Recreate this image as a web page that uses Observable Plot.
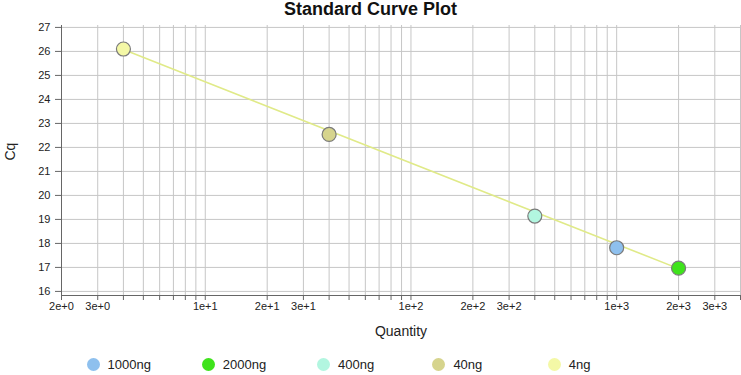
<!DOCTYPE html>
<html>
<head>
<meta charset="utf-8">
<script src="https://cdn.jsdelivr.net/npm/d3@7"></script>
<script src="https://cdn.jsdelivr.net/npm/@observablehq/plot@0.6"></script>
<style>
  html, body { margin: 0; padding: 0; background: #fff; }
  body { width: 741px; height: 375px; position: relative; overflow: hidden; font-family: "Liberation Sans", Arial, sans-serif; }
  #title { height: 22px; line-height: 18px; font-size: 18px; font-weight: bold; text-align: center; color: #111; margin: 0; }
  #legend { position: relative; height: 25px; }
  .item { position: absolute; top: 7px; height: 14px; display: flex; align-items: center; font-size: 13px; color: #222; }
  .sw { width: 13px; height: 13px; border-radius: 50%; margin-right: 8px; }
</style>
</head>
<body>
<div id="title">Standard Curve Plot</div>
<div id="chart"></div>
<div id="legend"></div>
<script>
const categories = ["1000ng", "2000ng", "400ng", "40ng", "4ng"];
const quantities = [1000, 2000, 400, 40, 4];
const cqValues = [17.82, 16.97, 19.14, 22.54, 26.10];
const colors = ["#8ec0ee", "#3fe31c", "#b2f6e0", "#d6d48d", "#f4f8a6"];

const fitQuantity = [4, 2000];
const fitCq = [26.08, 16.95];

const xDomain = [2, 4000];
const yDomain = [15.83, 27.08];
const xGridTicks = [2, 3, 4, 5, 6, 7, 8, 9, 10, 20, 30, 40, 50, 60, 70, 80, 90,
  100, 200, 300, 400, 500, 600, 700, 800, 900, 1000, 2000, 3000, 4000];
const xLabelValues = [2, 3, 10, 20, 30, 100, 200, 300, 1000, 2000, 3000];
const xLabelTexts = ["2e+0", "3e+0", "1e+1", "2e+1", "3e+1", "1e+2", "2e+2", "3e+2", "1e+3", "2e+3", "3e+3"];
const yTicks = [16, 17, 18, 19, 20, 21, 22, 23, 24, 25, 26, 27];

const points = categories.map((c, i) => ({category: c, quantity: quantities[i], cq: cqValues[i], color: colors[i]}));
const fit = fitQuantity.map((q, i) => ({quantity: q, cq: fitCq[i]}));
const xLabels = xLabelValues.map((v, i) => ({value: v, text: xLabelTexts[i]}));

const chart = Plot.plot({
  width: 741,
  height: 328,
  marginTop: 3,
  marginLeft: 61,
  marginRight: 1,
  marginBottom: 55,
  style: {fontFamily: "'Liberation Sans', Arial, sans-serif", fontSize: "11px", color: "#222", background: "#fff", overflow: "visible"},
  x: {type: "log", domain: xDomain},
  y: {domain: yDomain},
  color: {type: "identity"},
  marks: [
    Plot.gridX(xGridTicks, {stroke: "#c6c6c6", strokeOpacity: 1}),
    Plot.gridY(yTicks, {stroke: "#c6c6c6", strokeOpacity: 1}),
    Plot.ruleX([xDomain[0]], {stroke: "#666"}),
    Plot.ruleY([yDomain[0]], {stroke: "#666"}),
    Plot.axisX(xGridTicks, {tickSize: 5, tickPadding: 3, tickFormat: () => "", label: null, stroke: "#666"}),
    Plot.text(xLabels, {x: "value", text: "text", frameAnchor: "bottom", dy: 14, fontSize: 11, fill: "#222"}),
    Plot.axisY(yTicks, {tickSize: 6, tickPadding: 5, label: null, stroke: "#666", fontSize: 11, fill: "#222"}),
    Plot.line(fit, {x: "quantity", y: "cq", stroke: "#e0ea88", strokeWidth: 1.6}),
    Plot.dot(points, {x: "quantity", y: "cq", r: 7, fill: "color", stroke: "#7a7a7a", strokeWidth: 1.2}),
    Plot.text(["Cq"], {frameAnchor: "left", dx: -51, rotate: -90, fontSize: 14, fill: "#222"}),
    Plot.text(["Quantity"], {frameAnchor: "bottom", dy: 40, fontSize: 14, fill: "#222"})
  ]
});
document.getElementById("chart").appendChild(chart);

const legend = document.getElementById("legend");
categories.forEach((c, i) => {
  const item = document.createElement("div");
  item.className = "item";
  item.style.left = (93 + i * 115.3 - 6.5) + "px";
  const sw = document.createElement("span");
  sw.className = "sw";
  sw.style.background = colors[i];
  const t = document.createElement("span");
  t.textContent = c;
  item.appendChild(sw);
  item.appendChild(t);
  legend.appendChild(item);
});
</script>
</body>
</html>
